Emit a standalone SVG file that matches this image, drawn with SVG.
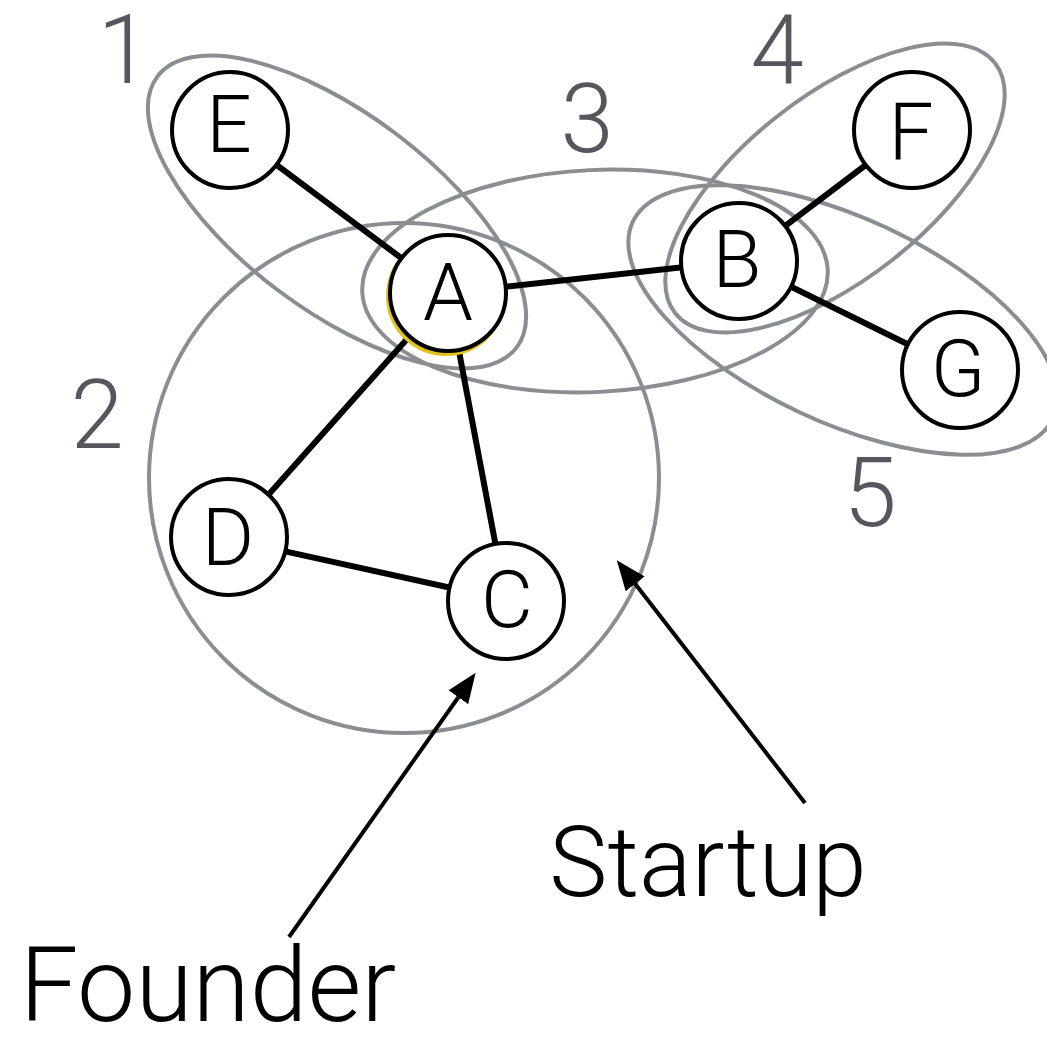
<svg xmlns="http://www.w3.org/2000/svg" width="1047" height="1037" viewBox="0 0 1047 1037">
  <style>
    .group { fill: none; stroke: #8a8d92; stroke-width: 4; }
    .edge { stroke: #000; stroke-width: 6; }
    .node circle { fill: #fff; stroke: #000; stroke-width: 4; }
    .label { font-family: Roboto, "Open Sans", "Liberation Sans", sans-serif; font-weight: 300; fill: #000; text-anchor: middle; }
    .num { font-family: Roboto, "Open Sans", "Liberation Sans", sans-serif; font-weight: 300; fill: #54585e; text-anchor: middle; font-size: 96px; }
    .pointer { stroke: #000; stroke-width: 4; fill: none; marker-end: url(#head); }
  </style>
  <defs>
    <marker id="head" markerUnits="userSpaceOnUse" viewBox="0 0 30 24" markerWidth="30" markerHeight="24" refX="15" refY="12" orient="auto">
      <path d="M0,0 L30,12 L0,24 z" fill="#000"/>
    </marker>
  </defs>

  <rect width="1047" height="1037" fill="#fff"/>

  <!-- group outlines -->
  <g id="groups">
    <ellipse class="group" cx="337" cy="212" rx="225" ry="98" transform="rotate(37 337 212)"/>
    <circle class="group" cx="404" cy="478" r="255"/>
    <ellipse class="group" cx="595" cy="281" rx="233" ry="111" transform="rotate(-2.7 595 281)"/>
    <ellipse class="group" cx="835" cy="188" rx="203" ry="92" transform="rotate(-38 835 188)"/>
    <ellipse class="group" cx="843" cy="320" rx="232" ry="102" transform="rotate(25 843 320)"/>
  </g>

  <!-- group numbers -->
  <g id="numbers">
    <text class="num" x="124" y="83">1</text>
    <text class="num" x="97" y="448">2</text>
    <text class="num" x="587" y="152">3</text>
    <text class="num" x="777" y="83">4</text>
    <text class="num" x="870" y="526">5</text>
  </g>

  <!-- connectors -->
  <g id="connectors">
    <line class="edge" x1="230" y1="130" x2="448" y2="293"/>
    <line class="edge" x1="448" y1="293" x2="739" y2="261"/>
    <line class="edge" x1="448" y1="293" x2="229" y2="539"/>
    <line class="edge" x1="448" y1="293" x2="506" y2="600"/>
    <line class="edge" x1="229" y1="539" x2="506" y2="600"/>
    <line class="edge" x1="739" y1="261" x2="912" y2="130"/>
    <line class="edge" x1="739" y1="261" x2="960" y2="370"/>
    <line class="pointer" x1="289" y1="937" x2="467" y2="685"/>
    <line class="pointer" x1="805" y1="803" x2="626" y2="572"/>
  </g>

  <!-- nodes -->
  <g id="node-E" class="node"><circle cx="230" cy="130" r="58"/><text class="label" x="229" y="152" font-size="80">E</text></g>
  <g id="node-A" class="node">
    <circle cx="446" cy="296" r="58" style="stroke:#e2c31c"/>
    <circle cx="448" cy="293" r="58"/>
    <text class="label" x="448" y="320" font-size="80">A</text>
  </g>
  <g id="node-B" class="node"><circle cx="739" cy="261" r="58"/><text class="label" x="737" y="287" font-size="80">B</text></g>
  <g id="node-F" class="node"><circle cx="912" cy="130" r="58"/><text class="label" x="911" y="160" font-size="80">F</text></g>
  <g id="node-G" class="node"><circle cx="960" cy="370" r="58"/><text class="label" x="958" y="396" font-size="80">G</text></g>
  <g id="node-D" class="node"><circle cx="229" cy="537" r="58"/><text class="label" x="228" y="565" font-size="80">D</text></g>
  <g id="node-C" class="node"><circle cx="506" cy="601" r="58"/><text class="label" x="507" y="627" font-size="80">C</text></g>

  <!-- annotations -->
  <g id="annotations">
    <text class="label" x="708" y="896" font-size="98">Startup</text>
    <text class="label" x="208" y="1021" font-size="104">Founder</text>
  </g>
</svg>
